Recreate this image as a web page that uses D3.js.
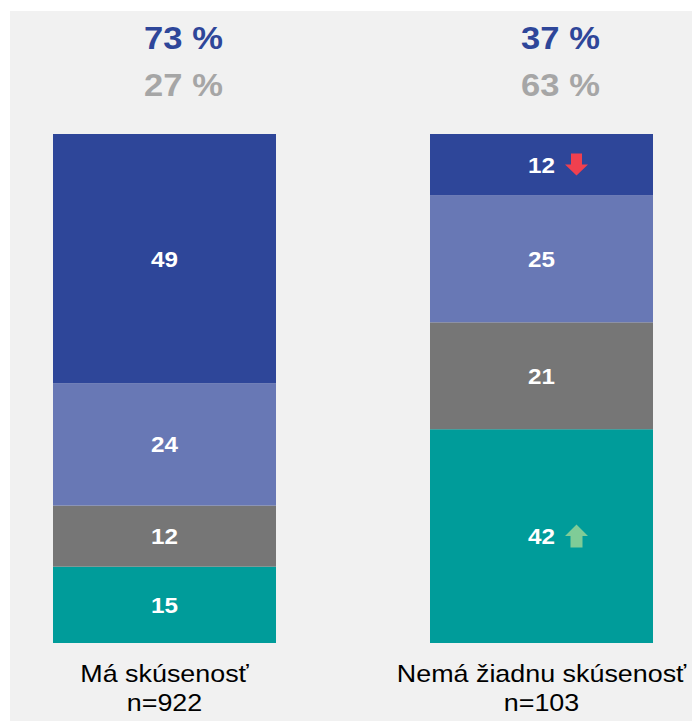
<!DOCTYPE html>
<html>
<head>
<meta charset="utf-8">
<script src="https://cdn.jsdelivr.net/npm/d3@7"></script>
<style>
  body { margin: 0; background: #fff; }
  svg { display: block; font-family: "Liberation Sans", Arial, sans-serif; }
</style>
</head>
<body>
<script>
'use strict'
// data
const groups = ['Má skúsenosť', 'Nemá žiadnu skúsenosť']
const sampleSizes = ['n=922', 'n=103']
const topShare = ['73 %', '37 %']
const bottomShare = ['27 %', '63 %']
// stacked bottom -> top
const keys = ['s4', 's3', 's2', 's1']
const s1 = [49, 12]
const s2 = [24, 25]
const s3 = [12, 21]
const s4 = [15, 42]
// significance arrows per key / group ('' = none)
const arrowS1 = ['', 'down']
const arrowS4 = ['', 'up']

const colors = { s1: '#2e4699', s2: '#6878b5', s3: '#767676', s4: '#009c9a' }

const width = 692
const height = 723
const stretch = 1.1 // reference text is drawn a bit wide

const data = groups.map((g, i) => ({ group: g, s1: s1[i], s2: s2[i], s3: s3[i], s4: s4[i] }))
const arrows = { s1: arrowS1, s4: arrowS4 }

const svg = d3.select('body').append('svg')
  .attr('width', width)
  .attr('height', height)

svg.append('rect')
  .attr('x', 10).attr('y', 11)
  .attr('width', width - 10).attr('height', 710)
  .attr('fill', '#f1f1f1')

const xa = d3.scaleOrdinal().domain(groups).range([53, 430])
const bw = 223
const y = d3.scaleLinear().domain([0, 100]).range([643, 134])

// position a text by transform so it can be stretched horizontally
function place (sel, fx, fy, sx) {
  sel.attr('x', 0).attr('y', 0)
    .attr('transform', function (d, i) {
      return `translate(${fx(d, i)},${fy(d, i)}) scale(${sx},1)`
    })
}

const stacked = d3.stack().keys(keys)(data)

const layer = svg.selectAll('g.layer')
  .data(stacked)
  .enter().append('g')
  .attr('class', 'layer')
  .attr('fill', d => colors[d.key])

layer.selectAll('rect')
  .data(d => d.map(v => Object.assign({ key: d.key }, v)))
  .enter().append('rect')
  .attr('x', d => xa(d.data.group))
  .attr('width', bw)
  .attr('y', d => y(d[1]))
  .attr('height', d => y(d[0]) - y(d[1]))

// value labels
const vals = layer.selectAll('text')
  .data(d => d.map(v => Object.assign({ key: d.key }, v)))
  .enter().append('text')
  .attr('text-anchor', 'middle')
  .attr('font-size', '22px')
  .attr('font-weight', 'bold')
  .attr('fill', '#fff')
  .text(d => d[1] - d[0])
place(vals, d => xa(d.data.group) + bw / 2, d => (y(d[0]) + y(d[1])) / 2 + 8, stretch)

// arrows next to labels
stacked.forEach(function (ser) {
  const dir = arrows[ser.key]
  if (!dir) return
  ser.forEach(function (v, i) {
    if (!dir[i]) return
    const cx = xa(v.data.group) + bw / 2 + 35
    const cy = (y(v[0]) + y(v[1])) / 2
    let pts
    if (dir[i] === 'down') {
      pts = [[-5.5, -11], [5.5, -11], [5.5, 0], [11.5, 0], [0, 11], [-11.5, 0], [-5.5, 0]]
    } else {
      pts = [[0, -11.5], [11.5, 0], [6, 0], [6, 11.5], [-6, 11.5], [-6, 0], [-11.5, 0]]
    }
    svg.append('polygon')
      .attr('points', pts.map(p => (cx + p[0]) + ',' + (cy + p[1])).join(' '))
      .attr('fill', dir[i] === 'down' ? '#f0404f' : '#7fcc97')
  })
})

// shares above bars
const top1 = svg.selectAll('text.top')
  .data(groups)
  .enter().append('text')
  .attr('class', 'top')
  .attr('text-anchor', 'middle')
  .attr('font-size', '32px')
  .attr('font-weight', 'bold')
  .attr('fill', '#2e4699')
  .text((g, i) => topShare[i])
place(top1, g => xa(g) + bw / 2 + 19, () => 49, 1.08)

const top2 = svg.selectAll('text.top2')
  .data(groups)
  .enter().append('text')
  .attr('class', 'top2')
  .attr('text-anchor', 'middle')
  .attr('font-size', '32px')
  .attr('font-weight', 'bold')
  .attr('fill', '#a6a6a6')
  .text((g, i) => bottomShare[i])
place(top2, g => xa(g) + bw / 2 + 19, () => 96, 1.08)

// category labels
const cat = svg.selectAll('g.cat')
  .data(groups)
  .enter().append('g')
  .attr('class', 'cat')
const c1 = cat.append('text')
  .attr('text-anchor', 'middle')
  .attr('font-size', '24px')
  .attr('fill', '#000')
  .text(g => g)
place(c1, g => xa(g) + bw / 2, () => 682, 1.12)
const c2 = cat.append('text')
  .attr('text-anchor', 'middle')
  .attr('font-size', '24px')
  .attr('fill', '#000')
  .text((g, i) => sampleSizes[i])
place(c2, g => xa(g) + bw / 2, () => 711, 1.12)
</script>
</body>
</html>
